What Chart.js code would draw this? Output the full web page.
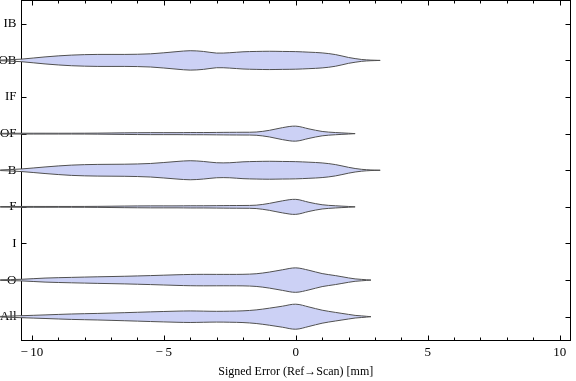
<!DOCTYPE html>
<html>
<head>
<meta charset="utf-8">
<script src="https://cdn.jsdelivr.net/npm/chart.js@4.4.0/dist/chart.umd.min.js"></script>
<style>
  html, body { margin: 0; padding: 0; background: #fff; }
</style>
</head>
<body>
<canvas id="violinChart" width="576" height="381"></canvas>
<script>
// categories top to bottom
const categories = ["IB", "OB", "IF", "OF", "B", "F", "I", "O", "All"];

// signed error grid (mm) and half widths of each violin (in category units)
const xGrid = [-11.2, -10.4, -9.5, -8.5, -7.5, -6.5, -5.5, -4.5, -4, -3.5, -3, -2.5, -2, -1.5, -1, -0.5, 0, 0.5, 1, 1.5, 2, 2.25, 2.5, 2.85, 3, 3.2];

const widthOB = [0.008, 0.035, 0.096, 0.145, 0.164, 0.164, 0.18, 0.24, 0.265, 0.245, 0.2, 0.21, 0.235, 0.245, 0.25, 0.245, 0.24, 0.225, 0.205, 0.16, 0.08, 0.05, 0.025, 0.008, 0.005, 0];
const widthOF = [0.008, 0.011, 0.011, 0.011, 0.014, 0.022, 0.027, 0.027, 0.03, 0.03, 0.033, 0.036, 0.038, 0.044, 0.09, 0.164, 0.205, 0.13, 0.06, 0.03, 0.011, 0, null, null, null, null];
const widthB = [0.008, 0.035, 0.09, 0.14, 0.16, 0.165, 0.185, 0.24, 0.26, 0.24, 0.205, 0.205, 0.23, 0.24, 0.245, 0.24, 0.235, 0.22, 0.2, 0.155, 0.08, 0.048, 0.025, 0.008, 0.005, 0];
const widthF = [0.008, 0.011, 0.011, 0.011, 0.014, 0.022, 0.027, 0.027, 0.03, 0.03, 0.033, 0.036, 0.038, 0.046, 0.095, 0.165, 0.205, 0.125, 0.058, 0.03, 0.011, 0, null, null, null, null];
const widthO = [0.008, 0.022, 0.055, 0.074, 0.09, 0.104, 0.123, 0.145, 0.154, 0.157, 0.156, 0.156, 0.158, 0.173, 0.219, 0.282, 0.334, 0.268, 0.178, 0.123, 0.06, 0.033, 0.019, 0, null, null];
const widthAll = [0.008, 0.027, 0.049, 0.074, 0.09, 0.11, 0.132, 0.152, 0.158, 0.152, 0.147, 0.151, 0.16, 0.186, 0.233, 0.288, 0.342, 0.266, 0.178, 0.118, 0.063, 0.036, 0.022, 0, null, null];

const xTickValues = [-10, -9, -8, -7, -6, -5, -4, -3, -2, -1, 0, 1, 2, 3, 4, 5, 6, 7, 8, 9, 10];

const violins = [
  { cat: "OB", w: widthOB },
  { cat: "OF", w: widthOF },
  { cat: "B", w: widthB },
  { cat: "F", w: widthF },
  { cat: "O", w: widthO },
  { cat: "All", w: widthAll },
];

const FILL = "rgb(204, 209, 245)";
const EDGE = "#505050";
const FONT = "'Liberation Serif', 'Times New Roman', serif";

function side(v, sign) {
  const idx = categories.indexOf(v.cat);
  const pts = [];
  xGrid.forEach((x, i) => {
    if (v.w[i] !== null) pts.push({ x: x, y: idx + sign * v.w[i] });
  });
  return pts;
}

const datasets = [];
violins.forEach((v) => {
  datasets.push({
    data: side(v, -1),
    borderColor: EDGE,
    borderWidth: 1,
    pointRadius: 0,
    fill: false,
    tension: 0.35,
    clip: false,
  });
  datasets.push({
    data: side(v, 1),
    borderColor: EDGE,
    borderWidth: 1,
    pointRadius: 0,
    backgroundColor: FILL,
    fill: "-1",
    tension: 0.35,
    clip: false,
  });
});

// frame + inward ticks on all four sides
const frameTicks = {
  id: "frameTicks",
  beforeDatasetsDraw(chart) {
    const { ctx, chartArea: a, scales } = chart;
    const L = Math.round(a.left) + 0.5, R = Math.round(a.right) - 0.5;
    const T = Math.round(a.top) + 0.5, B = Math.round(a.bottom) - 0.5;
    ctx.save();
    ctx.strokeStyle = "#000";
    ctx.lineWidth = 1;
    ctx.strokeRect(L, T, R - L, B - T);
    ctx.beginPath();
    xTickValues.forEach((v) => {
      const px = Math.round(scales.x.getPixelForValue(v)) + 0.5;
      const len = v % 5 === 0 ? 5 : 3;
      ctx.moveTo(px, B); ctx.lineTo(px, B - len);
      ctx.moveTo(px, T); ctx.lineTo(px, T + len);
    });
    categories.forEach((c, i) => {
      const py = Math.round(scales.y.getPixelForValue(i)) + 0.5;
      ctx.moveTo(L, py); ctx.lineTo(L + 5, py);
      ctx.moveTo(R, py); ctx.lineTo(R - 5, py);
    });
    ctx.stroke();
    ctx.restore();
  },
};

new Chart(document.getElementById("violinChart"), {
  type: "line",
  data: { datasets: datasets },
  plugins: [frameTicks],
  options: {
    responsive: false,
    animation: false,
    devicePixelRatio: 1,
    layout: { autoPadding: false, padding: { top: 0, right: 5, bottom: 0, left: 0 } },
    plugins: { legend: { display: false }, tooltip: { enabled: false } },
    scales: {
      x: {
        type: "linear",
        min: -10.43,
        max: 10.43,
        grid: { display: false, tickLength: 0 },
        border: { display: false },
        ticks: {
          stepSize: 5,
          includeBounds: false,
          maxRotation: 0,
          padding: 4,
          color: "#000",
          font: { family: FONT, size: 13 },
          callback: (v) => (v < 0 ? "\u2212\u2009" + Math.abs(v) : String(v)),
        },
        title: {
          display: true,
          text: "Signed Error (Ref\u2192Scan) [mm]",
          color: "#000",
          font: { family: FONT, size: 12 },
          padding: { top: 0, bottom: 2 },
        },
        afterFit: (s) => { s.height = 40.5; s.paddingLeft = 0; s.paddingRight = 0; },
      },
      y: {
        type: "linear",
        reverse: true,
        min: -0.65,
        max: 8.65,
        grid: { display: false, tickLength: 0 },
        border: { display: false },
        ticks: {
          stepSize: 1,
          includeBounds: false,
          padding: 4,
          color: "#000",
          font: { family: FONT, size: 13 },
          callback: (v) => categories[v],
        },
        afterFit: (s) => { s.width = 20.5; s.paddingTop = 0; s.paddingBottom = 0; },
      },
    },
  },
});
</script>
</body>
</html>
